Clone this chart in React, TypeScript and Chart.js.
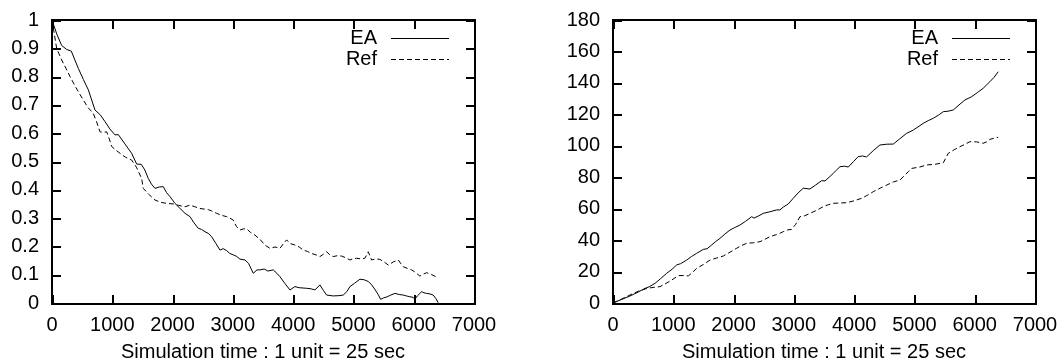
import React, { useEffect, useRef } from "react";
import { Chart, registerables } from "chart.js";

Chart.register(...registerables);

// ---------- data ----------
const seriesLabels = ["EA", "Ref"];
const xAxisTitle = "Simulation time : 1 unit = 25 sec";
const xTicks = [0, 1000, 2000, 3000, 4000, 5000, 6000, 7000];
const leftYTicks = [0, 0.1, 0.2, 0.3, 0.4, 0.5, 0.6, 0.7, 0.8, 0.9, 1];
const rightYTicks = [0, 20, 40, 60, 80, 100, 120, 140, 160, 180];

// Left chart, EA (solid)
const leftEAx = [0, 80, 160, 243, 320, 437, 520, 603, 713, 800, 879, 960, 1045, 1100, 1200, 1321, 1404, 1480, 1540, 1597, 1650, 1708, 1780, 1846, 1900, 1957, 2040, 2120, 2206, 2289, 2350, 2426, 2480, 2537, 2600, 2648, 2720, 2786, 2840, 2897, 2950, 3007, 3060, 3118, 3201, 3260, 3339, 3400, 3449, 3520, 3580, 3670, 3730, 3781, 3860, 3947, 4030, 4100, 4223, 4300, 4361, 4444, 4500, 4555, 4665, 4760, 4830, 4890, 4942, 5020, 5108, 5180, 5246, 5300, 5363, 5410, 5451, 5500, 5560, 5620, 5688, 5760, 5827, 5880, 5937, 5990, 6020, 6060, 6131, 6170, 6213, 6270, 6324, 6370, 6406];
const leftEAy = [1.0, 0.95, 0.91, 0.896, 0.89, 0.829, 0.79, 0.753, 0.682, 0.665, 0.641, 0.615, 0.594, 0.595, 0.565, 0.529, 0.491, 0.49, 0.47, 0.44, 0.42, 0.405, 0.41, 0.411, 0.39, 0.376, 0.352, 0.335, 0.317, 0.305, 0.285, 0.264, 0.26, 0.252, 0.245, 0.234, 0.21, 0.187, 0.192, 0.185, 0.175, 0.17, 0.165, 0.155, 0.152, 0.14, 0.105, 0.117, 0.117, 0.12, 0.113, 0.117, 0.105, 0.093, 0.07, 0.046, 0.058, 0.054, 0.052, 0.05, 0.046, 0.064, 0.045, 0.028, 0.025, 0.026, 0.028, 0.04, 0.058, 0.07, 0.084, 0.082, 0.076, 0.065, 0.046, 0.03, 0.013, 0.018, 0.022, 0.028, 0.034, 0.03, 0.028, 0.025, 0.022, 0.02, 0.013, 0.025, 0.04, 0.036, 0.034, 0.032, 0.028, 0.015, 0.001];

// Left chart, Ref (dashed)
const leftRefx = [0, 77, 160, 230, 299, 400, 519, 600, 685, 740, 796, 850, 907, 950, 990, 1060, 1128, 1220, 1321, 1400, 1487, 1514, 1600, 1708, 1800, 1902, 2012, 2100, 2206, 2289, 2370, 2454, 2520, 2592, 2650, 2730, 2810, 2897, 2950, 3007, 3060, 3118, 3180, 3229, 3290, 3366, 3450, 3530, 3615, 3700, 3781, 3840, 3892, 3950, 4030, 4100, 4168, 4240, 4306, 4380, 4444, 4500, 4555, 4610, 4665, 4730, 4803, 4870, 4942, 5000, 5052, 5120, 5190, 5246, 5301, 5370, 5439, 5510, 5578, 5660, 5744, 5790, 5827, 5900, 5965, 6030, 6103, 6160, 6213, 6300, 6406];
const leftRefy = [1.0, 0.9, 0.859, 0.83, 0.8, 0.76, 0.717, 0.69, 0.67, 0.64, 0.605, 0.603, 0.605, 0.58, 0.553, 0.54, 0.529, 0.515, 0.505, 0.48, 0.44, 0.405, 0.385, 0.364, 0.356, 0.352, 0.35, 0.345, 0.34, 0.346, 0.34, 0.334, 0.332, 0.33, 0.325, 0.317, 0.31, 0.305, 0.3, 0.293, 0.27, 0.258, 0.262, 0.262, 0.25, 0.24, 0.225, 0.205, 0.193, 0.198, 0.193, 0.21, 0.223, 0.21, 0.205, 0.198, 0.187, 0.182, 0.175, 0.17, 0.164, 0.172, 0.181, 0.17, 0.164, 0.167, 0.166, 0.16, 0.152, 0.157, 0.158, 0.156, 0.158, 0.181, 0.152, 0.156, 0.154, 0.145, 0.134, 0.145, 0.152, 0.138, 0.128, 0.122, 0.117, 0.108, 0.095, 0.102, 0.107, 0.1, 0.089];

// Right chart, EA (solid)
const rightEAx = [0, 140, 282, 420, 531, 600, 697, 790, 890, 980, 1056, 1120, 1222, 1300, 1388, 1498, 1560, 1637, 1700, 1774, 1860, 1940, 2020, 2106, 2200, 2300, 2338, 2420, 2493, 2600, 2714, 2769, 2824, 2880, 2907, 2990, 3070, 3156, 3266, 3360, 3461, 3516, 3600, 3654, 3709, 3765, 3840, 3903, 3990, 4068, 4140, 4206, 4320, 4428, 4540, 4649, 4760, 4870, 4981, 5060, 5147, 5230, 5313, 5400, 5479, 5560, 5645, 5740, 5837, 5948, 6050, 6141, 6252, 6320, 6390];
const rightEAy = [0, 2.2, 4.45, 7, 9.3, 10.3, 12.5, 15.5, 18.9, 21.5, 24.2, 25, 27.3, 29.5, 31.6, 34.1, 34.5, 36.9, 39, 41.1, 44, 46.4, 48, 49.6, 52, 54.9, 54, 55.5, 57, 58, 59.2, 59.2, 61, 62.3, 63, 66.6, 70, 73, 72.5, 75, 77.8, 77.6, 80.5, 82.5, 84.6, 86.7, 87, 86.5, 90, 93.1, 93.5, 92.9, 97, 100.5, 101, 101.1, 104.5, 107.9, 110, 112, 114.3, 116, 117.5, 119.5, 121.7, 122, 122.8, 126, 129.1, 131.2, 134, 136.6, 140.8, 143.5, 147.1];

// Right chart, Ref (dashed)
const rightRefx = [0, 140, 282, 420, 563, 680, 780, 880, 973, 1084, 1160, 1249, 1320, 1388, 1500, 1609, 1720, 1830, 1940, 2051, 2130, 2217, 2330, 2438, 2520, 2604, 2710, 2769, 2824, 2900, 2963, 3030, 3101, 3180, 3267, 3380, 3488, 3570, 3654, 3760, 3875, 4000, 4124, 4220, 4317, 4430, 4539, 4650, 4760, 4897, 4954, 5091, 5202, 5340, 5479, 5561, 5660, 5755, 5840, 5920, 6030, 6141, 6200, 6252, 6320, 6390];
const rightRefy = [0, 2.5, 5.1, 7.5, 9.3, 10, 10.4, 12.5, 14.6, 17.4, 17.5, 17.2, 19.5, 22, 24.5, 27.3, 28.6, 29.9, 32.3, 34.8, 36.5, 38, 38.3, 39, 40.5, 42.2, 43.5, 44.3, 45.4, 46.5, 46.8, 50, 54.9, 55.5, 57, 59, 61.3, 62.5, 63.4, 63.6, 63.8, 65, 66.6, 68.5, 70.8, 73, 75, 77, 78.2, 83.5, 85.6, 86.5, 87.8, 88.2, 89.2, 95.2, 97.5, 99.4, 101, 102.6, 102.5, 101.6, 102.5, 104.1, 104.8, 105.4];

// ---------- rendering ----------
const FONT = "'Liberation Sans', Arial, Helvetica, sans-serif";
const FONT_SIZE = 20;

const toPoints = (xs: number[], ys: number[]) => xs.map((x, i) => ({ x, y: ys[i] }));

const framePlugin = {
  id: "gnuplotFrame",
  afterDraw(chart: any) {
    const ctx: CanvasRenderingContext2D = chart.ctx;
    const ca = chart.chartArea;
    const sx = chart.scales.x;
    const sy = chart.scales.y;
    const tl = 8;
    const L = Math.round(ca.left);
    const T = Math.round(ca.top);
    const R = Math.round(ca.right);
    const B = Math.round(ca.bottom);
    ctx.save();
    ctx.fillStyle = "#000";
    // frame box (2px)
    ctx.fillRect(L - 1, T - 1, R - L + 3, 2);
    ctx.fillRect(L - 1, B, R - L + 3, 2);
    ctx.fillRect(L - 1, T - 1, 2, B - T + 3);
    ctx.fillRect(R, T - 1, 2, B - T + 3);
    // inward ticks on all four sides
    sx.ticks.forEach((t: any) => {
      const px = Math.round(sx.getPixelForValue(t.value));
      ctx.fillRect(px, B - tl, 2, tl);
      ctx.fillRect(px, T + 1, 2, tl);
    });
    sy.ticks.forEach((t: any) => {
      const py = Math.round(sy.getPixelForValue(t.value));
      ctx.fillRect(L + 1, py, tl, 2);
      ctx.fillRect(R - tl, py, tl, 2);
    });
    ctx.restore();

    // legend (key) in the top-right corner
    ctx.save();
    ctx.font = `${FONT_SIZE}px ${FONT}`;
    ctx.fillStyle = "#000";
    ctx.textAlign = "right";
    ctx.textBaseline = "middle";
    ctx.strokeStyle = "#000";
    ctx.lineWidth = 1;
    chart.data.datasets.forEach((ds: any, i: number) => {
      const y = T + 18 + i * 21;
      ctx.fillText(ds.label, R - 97, y);
      ctx.beginPath();
      ctx.setLineDash(ds.borderDash || []);
      ctx.moveTo(R - 83, y + 0.5);
      ctx.lineTo(R - 25, y + 0.5);
      ctx.stroke();
    });
    ctx.restore();
  },
};

type PanelProps = {
  eaX: number[];
  eaY: number[];
  refX: number[];
  refY: number[];
  yTicks: number[];
  yMax: number;
  yAxisWidth: number;
  padRight: number;
  left: number;
};

function Panel(p: PanelProps) {
  const ref = useRef<HTMLCanvasElement>(null);
  useEffect(() => {
    if (!ref.current) return;
    const chart = new Chart(ref.current, {
      type: "line",
      data: {
        datasets: [
          {
            label: seriesLabels[0],
            data: toPoints(p.eaX, p.eaY),
            borderColor: "#000",
            borderWidth: 1,
            pointRadius: 0,
            tension: 0,
          },
          {
            label: seriesLabels[1],
            data: toPoints(p.refX, p.refY),
            borderColor: "#000",
            borderWidth: 1,
            borderDash: [5, 3],
            pointRadius: 0,
            tension: 0,
          },
        ],
      },
      options: {
        animation: false,
        responsive: false,
        layout: { padding: { top: 20, right: p.padRight, left: 0, bottom: 0 } },
        plugins: { legend: { display: false }, tooltip: { enabled: false } },
        scales: {
          x: {
            type: "linear",
            min: 0,
            max: 7000,
            afterBuildTicks: (s: any) => {
              s.ticks = xTicks.map((value) => ({ value }));
            },
            afterFit: (s: any) => {
              s.height = 61;
              s.paddingLeft = 0;
              s.paddingRight = 0;
            },
            grid: { display: false, drawTicks: false },
            border: { display: false },
            ticks: {
              padding: 10,
              color: "#000",
              font: { family: FONT, size: FONT_SIZE },
              maxRotation: 0,
              autoSkip: false,
              callback: (v: any) => String(v),
            },
            title: {
              display: true,
              text: xAxisTitle,
              color: "#000",
              font: { family: FONT, size: FONT_SIZE },
              padding: { top: 0, bottom: 0 },
            },
          },
          y: {
            type: "linear",
            min: 0,
            max: p.yMax,
            afterBuildTicks: (s: any) => {
              s.ticks = p.yTicks.map((value) => ({ value }));
            },
            afterFit: (s: any) => {
              s.width = p.yAxisWidth;
              s.paddingTop = 0;
              s.paddingBottom = 0;
            },
            grid: { display: false, drawTicks: false },
            border: { display: false },
            ticks: {
              padding: 13,
              color: "#000",
              font: { family: FONT, size: FONT_SIZE },
              autoSkip: false,
              callback: (v: any) => String(Math.round(v * 10) / 10),
            },
          },
        },
      },
      plugins: [framePlugin],
    } as any);
    return () => chart.destroy();
  }, []);
  return (
    <div style={{ position: "absolute", left: p.left, top: 0, width: 530, height: 364 }}>
      <canvas ref={ref} width={530} height={364} style={{ display: "block" }} />
    </div>
  );
}

export default function App() {
  return (
    <div style={{ position: "absolute", left: 0, top: 0, width: 1060, height: 364 }}>
      <Panel eaX={leftEAx} eaY={leftEAy} refX={leftRefx} refY={leftRefy} yTicks={leftYTicks} yMax={1} yAxisWidth={52} padRight={56} left={0} />
      <Panel eaX={rightEAx} eaY={rightEAy} refX={rightRefx} refY={rightRefy} yTicks={rightYTicks} yMax={180} yAxisWidth={83} padRight={25} left={530} />
    </div>
  );
}
